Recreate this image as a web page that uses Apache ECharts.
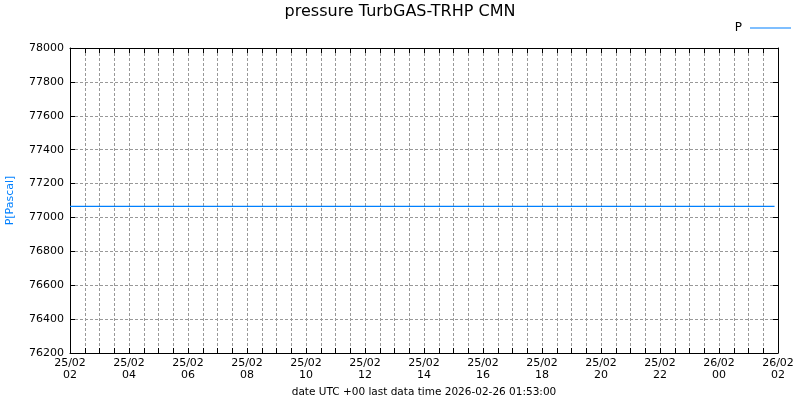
<!DOCTYPE html>
<html>
<head>
<meta charset="utf-8">
<script src="https://cdn.jsdelivr.net/npm/echarts@6/dist/echarts.min.js"></script>
<style>
  html, body { margin: 0; padding: 0; background: #fff; }
  #chart { width: 800px; height: 400px; }
</style>
</head>
<body>
<div id="chart"></div>
<script>
// readings (UTC) and pressure values in Pascal
const times = [
  "2026-02-25T02:00:00Z", "2026-02-25T04:00:00Z", "2026-02-25T06:00:00Z",
  "2026-02-25T08:00:00Z", "2026-02-25T10:00:00Z", "2026-02-25T12:00:00Z",
  "2026-02-25T14:00:00Z", "2026-02-25T16:00:00Z", "2026-02-25T18:00:00Z",
  "2026-02-25T20:00:00Z", "2026-02-25T22:00:00Z", "2026-02-26T00:00:00Z",
  "2026-02-26T01:53:00Z"
];
const pressure = [77065, 77065, 77065, 77065, 77065, 77065, 77065, 77065, 77065, 77065, 77065, 77065, 77065];
const xStart = "2026-02-25T02:00:00Z";
const xEnd = "2026-02-26T02:00:00Z";
const yMin = 76200, yMax = 78000, yStep = 200;

const HALF_HOUR = 30 * 60 * 1000;
const font = "DejaVu Sans";

function pad(n) { return (n < 10 ? "0" : "") + n; }
function timeLabel(v) {
  const d = new Date(v);
  if (d.getUTCMinutes() !== 0 || d.getUTCHours() % 2 !== 0) return "";
  return pad(d.getUTCDate()) + "/" + pad(d.getUTCMonth() + 1) + "\n" + pad(d.getUTCHours());
}

const lineData = times.map((t, i) => [Date.parse(t), pressure[i]]);

const xBase = {
  type: "value",
  min: Date.parse(xStart),
  max: Date.parse(xEnd),
  interval: HALF_HOUR,
  axisLine: { show: true, lineStyle: { color: "#000", width: 1 } },
  axisTick: { show: true, inside: true, length: 5, lineStyle: { color: "#000" } }
};
const yBase = {
  type: "value",
  min: yMin,
  max: yMax,
  interval: yStep,
  axisLine: { show: true, lineStyle: { color: "#000", width: 1 } },
  axisTick: { show: true, inside: true, length: 5, lineStyle: { color: "#000" } }
};

const grid = { color: "#999", type: [3, 2], width: 1 };

const chart = echarts.init(document.getElementById("chart"));
chart.setOption({
  animation: false,
  title: {
    text: "pressure TurbGAS-TRHP CMN",
    left: "center",
    top: -1,
    textStyle: { fontFamily: font, fontSize: 16, fontWeight: "normal", color: "#000" }
  },
  legend: {
    right: 4,
    top: 17,
    align: "right",
    icon: "rect",
    itemWidth: 41,
    itemHeight: 1,
    textStyle: { fontFamily: font, fontSize: 12, color: "#000", padding: [0, 3, 0, 0] },
    data: ["P"]
  },
  grid: { left: 70, right: 22, top: 48, bottom: 47, outerBoundsMode: "none", containLabel: false },
  xAxis: [
    Object.assign({}, xBase, {
      position: "bottom",
      name: "date UTC +00 last data time 2026-02-26 01:53:00",
      nameLocation: "middle",
      nameGap: 34,
      nameTextStyle: { fontFamily: font, fontSize: 10.5, color: "#000" },
      axisLabel: {
        formatter: timeLabel,
        fontFamily: font, fontSize: 11, color: "#000",
        margin: 4, lineHeight: 12,
        showMinLabel: true, showMaxLabel: true
      },
      splitLine: { show: true, lineStyle: grid }
    }),
    Object.assign({}, xBase, {
      position: "top",
      axisLabel: { show: false },
      splitLine: { show: false }
    })
  ],
  yAxis: [
    Object.assign({}, yBase, {
      position: "left",
      name: "P[Pascal]",
      nameLocation: "middle",
      nameGap: 54,
      nameTextStyle: { fontFamily: font, fontSize: 11, color: "#0080ff" },
      axisLabel: { fontFamily: font, fontSize: 11, color: "#000", margin: 6, formatter: v => String(v) },
      splitLine: { show: true, lineStyle: grid }
    }),
    Object.assign({}, yBase, {
      position: "right",
      axisLabel: { show: false },
      splitLine: { show: false }
    })
  ],
  series: [
    {
      name: "P",
      type: "line",
      data: lineData,
      showSymbol: false,
      symbol: "none",
      lineStyle: { color: "#0080ff", width: 1.2 },
      itemStyle: { color: "#0080ff" }
    }
  ]
});
</script>
</body>
</html>
